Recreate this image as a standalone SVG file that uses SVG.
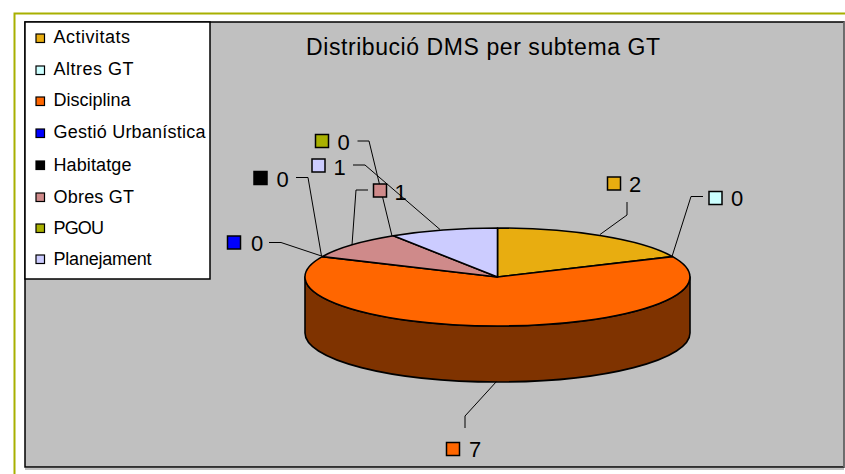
<svg xmlns="http://www.w3.org/2000/svg" width="845" height="474" viewBox="0 0 845 474">
<style>
  .t{font-family:"Liberation Sans",Arial,sans-serif;fill:#000}
  .lg{font-size:18px}
  .lb{font-size:22px}
  .sw{stroke:#000;stroke-width:1.2}
  .ls{stroke:#000;stroke-width:1.5}
  .pie{stroke:#000;stroke-width:1.6;stroke-linejoin:round}
  .ld{fill:none;stroke:#000;stroke-width:1}
</style>
<rect x="0" y="0" width="845" height="474" fill="#fff"/>
<path d="M14.5,474 V13.5 H845" fill="none" stroke="#A8B000" stroke-width="2"/>
<g id="plot-area">
  <rect x="25" y="22" width="819" height="445" fill="#C0C0C0" stroke="#000" stroke-width="1.5"/>
  <line x1="844" y1="22" x2="844" y2="467" stroke="#808080" stroke-width="1.5"/>
  <line x1="25" y1="469" x2="844" y2="469" stroke="#808080" stroke-width="1"/>
</g>
<g id="title">
  <text class="t" x="306" y="54.5" font-size="23" textLength="354" lengthAdjust="spacing">Distribució DMS per subtema GT</text>
</g>
<g id="legend">
  <rect x="25" y="22" width="185" height="257" fill="#fff" stroke="#000" stroke-width="1.5"/>
  <rect class="sw" x="36" y="34" width="8.5" height="8.5" fill="#E8AD10"/>
  <text class="t lg" x="53.5" y="43" textLength="76.5" lengthAdjust="spacing">Activitats</text>
  <rect class="sw" x="36" y="66" width="8.5" height="8.5" fill="#CCFFFF"/>
  <text class="t lg" x="53.5" y="75" textLength="80" lengthAdjust="spacing">Altres GT</text>
  <rect class="sw" x="36" y="97" width="8.5" height="8.5" fill="#FF6600"/>
  <text class="t lg" x="53.5" y="106" textLength="77" lengthAdjust="spacing">Disciplina</text>
  <rect class="sw" x="36" y="129" width="8.5" height="8.5" fill="#0000FF"/>
  <text class="t lg" x="53.5" y="138" textLength="152" lengthAdjust="spacing">Gestió Urbanística</text>
  <rect class="sw" x="36" y="161" width="8.5" height="8.5" fill="#000000"/>
  <text class="t lg" x="53.5" y="170.5" textLength="78" lengthAdjust="spacing">Habitatge</text>
  <rect class="sw" x="36" y="193" width="8.5" height="8.5" fill="#CF8A8A"/>
  <text class="t lg" x="53.5" y="202.5" textLength="80.5" lengthAdjust="spacing">Obres GT</text>
  <rect class="sw" x="36" y="224" width="8.5" height="8.5" fill="#A8B000"/>
  <text class="t lg" x="53.5" y="233.5" textLength="50.5" lengthAdjust="spacing">PGOU</text>
  <rect class="sw" x="36" y="255" width="8.5" height="8.5" fill="#CCCCFF"/>
  <text class="t lg" x="53.5" y="265" textLength="98" lengthAdjust="spacing">Planejament</text>
</g>
<g id="pie">
  <path id="side" class="pie" d="M305,277 L305,333 A192.5,49 0 0 0 690,333 L690,277 A192.5,49 0 0 1 305,277 Z" fill="#7F3300"/>
  <path id="slice-activitats" class="pie" d="M497.5,277 L497.5,228 A192.5,49 0 0 1 672.6,256.6 Z" fill="#E8AD10"/>
  <path id="slice-disciplina" class="pie" d="M497.5,277 L672.6,256.6 A192.5,49 0 1 1 322.3,256.6 Z" fill="#FF6600"/>
  <path id="slice-obres" class="pie" d="M497.5,277 L322.3,256.6 A192.5,49 0 0 1 393.4,235.8 Z" fill="#CF8A8A"/>
  <path id="slice-planejament" class="pie" d="M497.5,277 L393.4,235.8 A192.5,49 0 0 1 497.5,228 Z" fill="#CCCCFF"/>
</g>
<g id="connectors">
  <path class="ld" d="M627,202 V215 L600,234.5"/>
  <path class="ld" d="M703,196.5 H691 L672,256.5"/>
  <path class="ld" d="M465,428 V416 L496.5,381.5"/>
  <path class="ld" d="M269,242.5 H281 L321.5,256"/>
  <path class="ld" d="M296,177.5 H308 L321.5,256"/>
  <path class="ld" d="M368,190 H356 L352,245"/>
  <path class="ld" d="M353,165 H365 L440,229.5"/>
  <path class="ld" d="M357.5,141 H369 L392,236"/>
</g>
<g id="label-activitats">
  <rect class="ls" x="607.5" y="177" width="13" height="13" fill="#E8AD10"/>
  <text class="t lb" x="629" y="192">2</text>
</g>
<g id="label-altres">
  <rect class="ls" x="709" y="191.5" width="13" height="13" fill="#CCFFFF"/>
  <text class="t lb" x="731" y="206">0</text>
</g>
<g id="label-disciplina">
  <rect class="ls" x="446.5" y="442.5" width="13" height="13" fill="#FF6600"/>
  <text class="t lb" x="469" y="457">7</text>
</g>
<g id="label-gestio">
  <rect class="ls" x="227.5" y="236" width="13" height="13" fill="#0000FF"/>
  <text class="t lb" x="251" y="250.5">0</text>
</g>
<g id="label-habitatge">
  <rect class="ls" x="254" y="171.5" width="13" height="13" fill="#000000"/>
  <text class="t lb" x="276.5" y="186.5">0</text>
</g>
<g id="label-obres">
  <rect class="ls" x="373.5" y="184" width="13" height="13" fill="#CF8A8A"/>
  <text class="t lb" x="394.5" y="199.5">1</text>
</g>
<g id="label-planejament">
  <rect class="ls" x="312" y="159" width="13" height="13" fill="#CCCCFF"/>
  <text class="t lb" x="333.5" y="174.5">1</text>
</g>
<g id="label-pgou">
  <rect class="ls" x="315.5" y="134.5" width="13" height="13" fill="#A8B000"/>
  <text class="t lb" x="337.5" y="149.5">0</text>
</g>
</svg>
